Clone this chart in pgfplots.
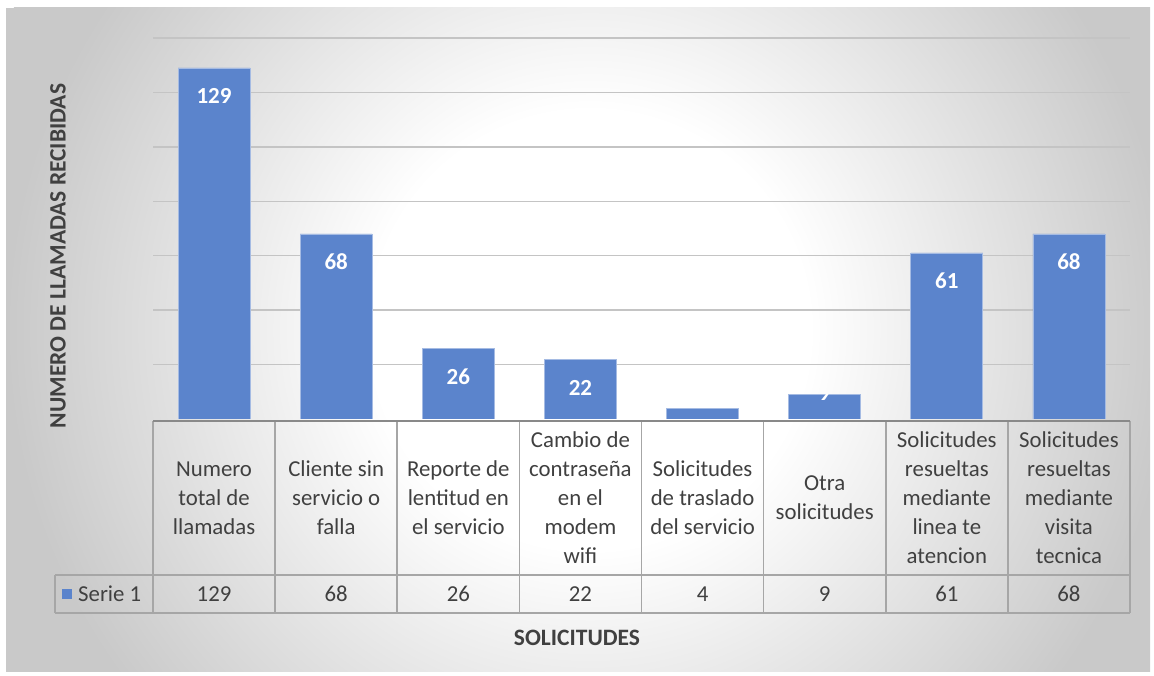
\documentclass[border=0pt]{standalone}
\usepackage{pgfplots}
\pgfplotsset{compat=1.18}
\usepackage{pgfplotstable}
\usepackage{fontspec}
\setmainfont{Carlito}

\definecolor{barblue}{RGB}{91,132,204}
\definecolor{txt}{RGB}{64,64,64}
\definecolor{tline}{RGB}{166,166,166}
\definecolor{tdark}{RGB}{137,137,137}
\definecolor{gridc}{RGB}{196,196,196}

% fondo: blanco en el centro, gris hacia los bordes
\pgfdeclareradialshading{fondo}{\pgfpoint{0bp}{0bp}}{%
  color(0bp)=(white); color(8.3bp)=(white);
  color(22bp)=(gray!42); color(50bp)=(gray!42)}

% valores de la serie
\pgfplotstableread{
x y
0 129
1 68
2 26
3 22
4 4
5 9
6 61
7 68
}\datos

% posicion de las etiquetas (dentro del extremo de la barra)
\pgfplotstableread{
x y lab
0 118.7 129
1 57.7 68
2 15.4 26
3 11.3 22
6 50.7 61
7 57.7 68
}\etiquetas

\newcommand{\celda}{\fontsize{22.8}{29}\selectfont}

\pgfplotsset{
  marco/.style={
    at={(153pt,257pt)}, anchor=south west,
    scale only axis,
    width=977pt, height=381pt,
    xmin=-0.5, xmax=7.5,
    ymin=0, ymax=140,
  },
  etiq/.style={
    draw=none, mark=none, nodes near coords, point meta=explicit symbolic,
    every node near coord/.style={anchor=center, text=white,
        font=\fontsize{23}{27}\selectfont\bfseries}
  },
}

\begin{document}
\begin{tikzpicture}[x=1pt,y=1pt]

\useasboundingbox (0,0) rectangle (1154,676);
\fill[white] (0,0) rectangle (1154,676);
\fill[gray!42] (6,4) rectangle (1150,668);
\begin{scope}
  \clip (6,4) rectangle (1150,668);
  \shade[shading=fondo] (590,346) circle (660);
\end{scope}

\begin{axis}[
    marco,
    xtick=\empty,
    ytick={20,40,...,140},
    yticklabels={},
    major tick length=0pt,
    ymajorgrids,
    grid style={gridc, line width=1.5pt},
    axis line style={draw=none},
]

\addplot[ybar, bar width=0.59, fill=barblue, draw=barblue!55!white, line width=0.8pt]
    table[x=x, y=y] {\datos};

\addplot[etiq] table[x=x, y=y, meta=lab] {\etiquetas};

\end{axis}

% etiqueta del 9: sobresale de la barra y solo se ve su parte baja
\begin{scope}
\clip (788.7,257) rectangle (860.7,281.4);
\begin{axis}[marco, hide axis, clip=false]
\addplot[etiq] coordinates {(5,9.6) [9]};
\end{axis}
\end{scope}

% tabla de datos
\def\cw{122.125}
\foreach \k in {0,...,8} {
  \draw[tline, line width=1.6pt] (153+\k*\cw,255) -- (153+\k*\cw,63);
}
\draw[tline, line width=1.6pt] (55,101) -- (1130,101);
\draw[tline, line width=1.6pt] (55,63) -- (1130,63);
\draw[tline, line width=1.6pt] (55,101) -- (55,63);
\draw[tdark, line width=2.2pt] (153,255) -- (1130,255);

\foreach [count=\i from 0] \t in {
    {Numero\\total de\\llamadas},
    {Cliente sin\\servicio o\\falla},
    {Reporte de\\lentitud en\\el servicio},
    {Cambio de\\contraseña\\en el\\modem\\wifi},
    {Solicitudes\\de traslado\\del servicio},
    {Otra\\solicitudes},
    {Solicitudes\\resueltas\\mediante\\linea te\\atencion},
    {Solicitudes\\resueltas\\mediante\\visita\\tecnica}} {
  \node[align=center, text=txt, font=\celda, inner sep=0pt]
    at (153+\i*\cw+0.5*\cw,178) {\t};
}

\foreach [count=\i from 0] \v in {129,68,26,22,4,9,61,68} {
  \node[text=txt, font=\celda, inner sep=0pt] at (153+\i*\cw+0.5*\cw,82) {\v};
}

\fill[barblue] (62,77) rectangle (72,87);
\node[anchor=west, text=txt, font=\celda, inner sep=0pt] at (78,82) {Serie 1};

% titulos de ejes
\node[text=txt, font=\fontsize{23.5}{28}\selectfont\bfseries] at (577,38) {SOLICITUDES};
\node[text=txt, font=\fontsize{23.5}{28}\selectfont\bfseries, rotate=90]
    at (58,420) {NUMERO DE LLAMADAS RECIBIDAS};

\end{tikzpicture}
\end{document}
